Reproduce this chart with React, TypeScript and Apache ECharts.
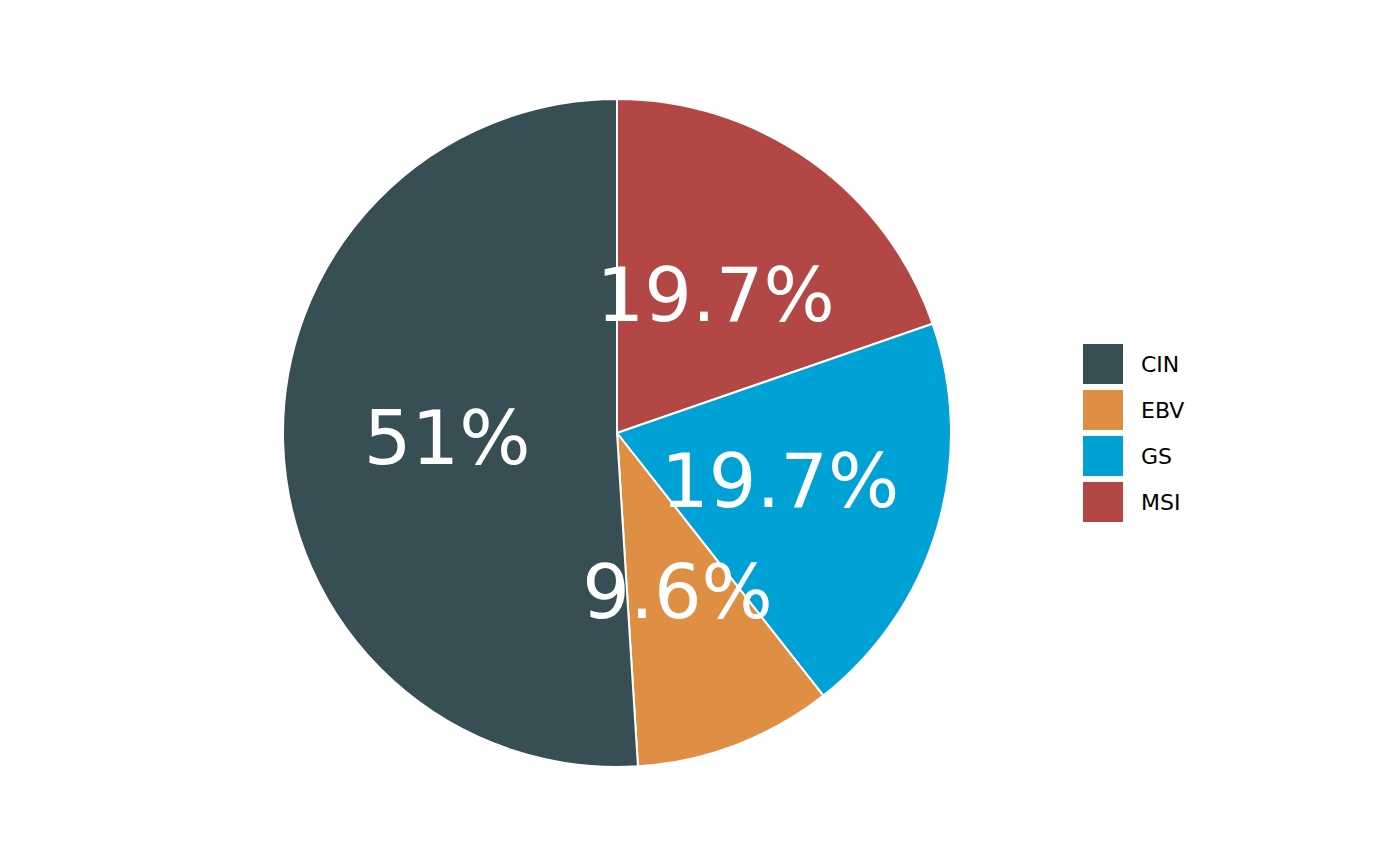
import React, { useEffect, useRef } from "react";
import * as echarts from "echarts";

const categories = ["MSI", "GS", "EBV", "CIN"];
const values = [19.7, 19.7, 9.6, 51];
const legendOrder = ["CIN", "EBV", "GS", "MSI"];
const colorMap: Record<string, string> = {
  CIN: "#374E55",
  EBV: "#DF8F44",
  GS: "#00A1D5",
  MSI: "#B24745",
};

export default function App() {
  const ref = useRef<HTMLDivElement>(null);
  useEffect(() => {
    if (!ref.current) return;
    const chart = echarts.init(ref.current, undefined, { renderer: "svg" });
    chart.setOption({
      animation: false,
      backgroundColor: "#ffffff",
      legend: {
        data: legendOrder,
        orient: "vertical",
        left: 1083,
        top: 344,
        padding: 0,
        itemWidth: 40,
        itemHeight: 40,
        itemGap: 6,
        icon: "rect",
        itemStyle: { borderWidth: 0 },
        textStyle: {
          fontFamily: "DejaVu Sans",
          fontSize: 22,
          lineHeight: 22,
          color: "#000000",
          padding: [0, 0, 0, 13],
        },
        selectedMode: false,
      },
      series: [
        {
          type: "pie",
          center: [617, 433],
          radius: [0, 334],
          startAngle: 90,
          clockwise: true,
          silent: true,
          data: categories.map((c, i) => ({
            name: c,
            value: values[i],
            itemStyle: { color: colorMap[c] },
          })),
          itemStyle: { borderColor: "#ffffff", borderWidth: 2 },
          label: {
            show: true,
            position: "inside",
            formatter: (p: any) => `${p.value}%`,
            fontFamily: "DejaVu Sans",
            fontSize: 75,
            color: "#ffffff",
          },
          labelLine: { show: false },
        },
      ],
    });
    return () => chart.dispose();
  }, []);
  return (
    <div
      ref={ref}
      style={{ position: "fixed", left: 0, top: 0, width: 1400, height: 866 }}
    />
  );
}
